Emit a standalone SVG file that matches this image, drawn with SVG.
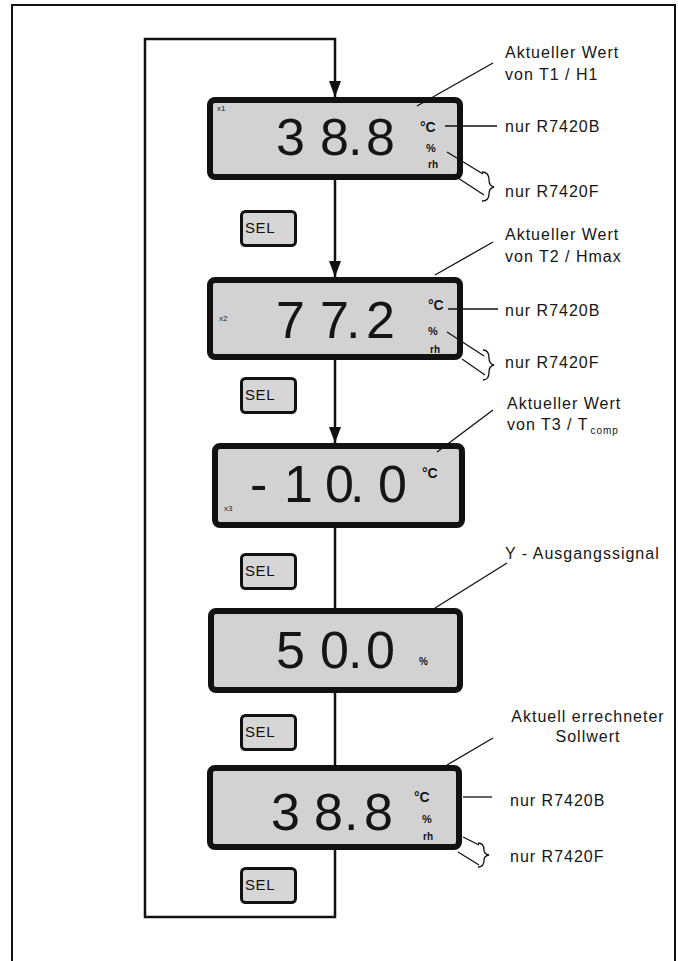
<svg xmlns="http://www.w3.org/2000/svg" width="678" height="961" viewBox="0 0 678 961">
<style>
.lbl{font-family:"Liberation Sans",Arial,sans-serif;font-size:16px;letter-spacing:1px;fill:#151515}
.lcd{fill:#d2d2d2;stroke:#111;stroke-width:6}
.btn{fill:#d6d6d6;stroke:#111;stroke-width:3}
.sel{font-family:"Liberation Sans",Arial,sans-serif;font-size:15px;letter-spacing:0.6px;fill:#111}
.dig{font-family:"Liberation Sans",Arial,sans-serif;font-size:52px;fill:#151515}
.unit{font-family:"Liberation Sans",Arial,sans-serif;font-weight:bold;fill:#151515}
.tiny{font-family:"Liberation Sans",Arial,sans-serif;font-size:8px;fill:#222}
.ln{stroke:#111;stroke-width:2.5;fill:none}
.ld{stroke:#111;stroke-width:1.3;fill:none}
</style>
<defs>
<marker id="ah" viewBox="0 0 16 12" markerWidth="16" markerHeight="12" refX="16" refY="6" orient="auto" markerUnits="userSpaceOnUse">
<path d="M0,0 L16,6 L0,12 z" fill="#111"/>
</marker>
</defs>
<rect width="678" height="961" fill="#fff"/>
<path d="M12,961 V5 H675 V961" fill="none" stroke="#111" stroke-width="2"/>

<g id="connectors">
<path class="ln" d="M335,850 V917 H145 V39 H335 V97" marker-end="url(#ah)"/>
<path class="ln" d="M335,180 V277" marker-end="url(#ah)"/>
<path class="ln" d="M335,360 V443" marker-end="url(#ah)"/>
<path class="ln" d="M335,528 V608"/>
<path class="ln" d="M335,693 V765"/>
</g>

<g id="display1">
<rect class="lcd" x="210" y="100" width="250" height="77" rx="5"/>
<text class="tiny" x="217" y="111">x1</text>
<text class="dig" x="276 320 348 366" y="155">38.8</text>
<text class="unit" x="420" y="132" font-size="14">°C</text>
<text class="unit" x="426" y="152" font-size="11">%</text>
<text class="unit" x="428" y="168" font-size="10">rh</text>
</g>
<g id="label1">
<line class="ld" x1="417" y1="106" x2="493" y2="63"/>
<text class="lbl" x="505" y="58">Aktueller Wert</text>
<text class="lbl" x="505" y="80">von T1 / H1</text>
<line class="ld" x1="445" y1="126" x2="497" y2="126"/>
<text class="lbl" x="505" y="132">nur R7420B</text>
<line class="ld" x1="447" y1="152" x2="483" y2="174"/>
<line class="ld" x1="458" y1="178" x2="484" y2="195"/>
<path class="ld" d="M482,172 Q489,172 489,180 Q489,186 494,187 Q489,188 489,194 Q489,201 482,201"/>
<text class="lbl" x="505" y="197">nur R7420F</text>
</g>

<g id="sel1">
<rect class="btn" x="241.5" y="211.5" width="54" height="34" rx="4"/>
<text class="sel" x="245" y="233">SEL</text>
</g>

<g id="display2">
<rect class="lcd" x="210" y="280" width="250" height="77" rx="5"/>
<text class="tiny" x="219" y="321">x2</text>
<text class="dig" x="276 320 346 366" y="338">77.2</text>
<text class="unit" x="428" y="310" font-size="14">°C</text>
<text class="unit" x="428" y="335" font-size="11">%</text>
<text class="unit" x="430" y="353" font-size="10">rh</text>
</g>
<g id="label2">
<line class="ld" x1="435" y1="275" x2="493" y2="242"/>
<text class="lbl" x="505" y="240">Aktueller Wert</text>
<text class="lbl" x="505" y="262">von T2 / Hmax</text>
<line class="ld" x1="448" y1="309" x2="498" y2="309"/>
<text class="lbl" x="505" y="316">nur R7420B</text>
<line class="ld" x1="447" y1="332" x2="484" y2="356"/>
<line class="ld" x1="462" y1="359" x2="485" y2="375"/>
<path class="ld" d="M483,350 Q489,350 489,358 Q489,364 494,365 Q489,366 489,372 Q489,380 483,380"/>
<text class="lbl" x="505" y="368">nur R7420F</text>
</g>

<g id="sel2">
<rect class="btn" x="241.5" y="378.5" width="54" height="34" rx="4"/>
<text class="sel" x="245" y="400">SEL</text>
</g>

<g id="display3">
<rect class="lcd" x="215" y="446" width="247" height="79" rx="5"/>
<text class="tiny" x="224" y="511">x3</text>
<text class="dig" x="250 284 325 350 378" y="502">-10.0</text>
<text class="unit" x="422" y="478" font-size="14">°C</text>
</g>
<g id="label3">
<line class="ld" x1="437" y1="452" x2="493" y2="410"/>
<text class="lbl" x="507" y="409">Aktueller Wert</text>
<text class="lbl" x="507" y="430">von T3 / T<tspan font-size="10" dy="4" dx="2">comp</tspan></text>
</g>

<g id="sel3">
<rect class="btn" x="241.5" y="554.5" width="54" height="34" rx="4"/>
<text class="sel" x="245" y="576">SEL</text>
</g>

<g id="display4">
<rect class="lcd" x="211" y="611" width="249" height="79" rx="5"/>
<text class="dig" x="276 320 348 366" y="668">50.0</text>
<text class="unit" x="419" y="665" font-size="10">%</text>
</g>
<g id="label4">
<line class="ld" x1="435" y1="608" x2="507" y2="563"/>
<text class="lbl" x="505" y="559">Y - Ausgangssignal</text>
</g>

<g id="sel4">
<rect class="btn" x="241.5" y="715.5" width="54" height="34" rx="4"/>
<text class="sel" x="245" y="737">SEL</text>
</g>

<g id="display5">
<rect class="lcd" x="210" y="768" width="249" height="79" rx="5"/>
<text class="dig" x="271 314 344 364" y="830">38.8</text>
<text class="unit" x="414" y="802" font-size="14">°C</text>
<text class="unit" x="422" y="823" font-size="11">%</text>
<text class="unit" x="423" y="840" font-size="10">rh</text>
</g>
<g id="label5">
<line class="ld" x1="447" y1="765" x2="493" y2="738"/>
<text class="lbl" x="588" y="722" text-anchor="middle">Aktuell errechneter</text>
<text class="lbl" x="588" y="742" text-anchor="middle">Sollwert</text>
<line class="ld" x1="463" y1="797" x2="492" y2="797"/>
<text class="lbl" x="510" y="806">nur R7420B</text>
<line class="ld" x1="463" y1="837" x2="479" y2="845"/>
<line class="ld" x1="458" y1="852" x2="479" y2="865"/>
<path class="ld" d="M478,843 Q484,843 484,850 Q484,854 489,855 Q484,856 484,860 Q484,867 478,867"/>
<text class="lbl" x="510" y="862">nur R7420F</text>
</g>

<g id="sel5">
<rect class="btn" x="241.5" y="868.5" width="54" height="34" rx="4"/>
<text class="sel" x="245" y="890">SEL</text>
</g>
</svg>
